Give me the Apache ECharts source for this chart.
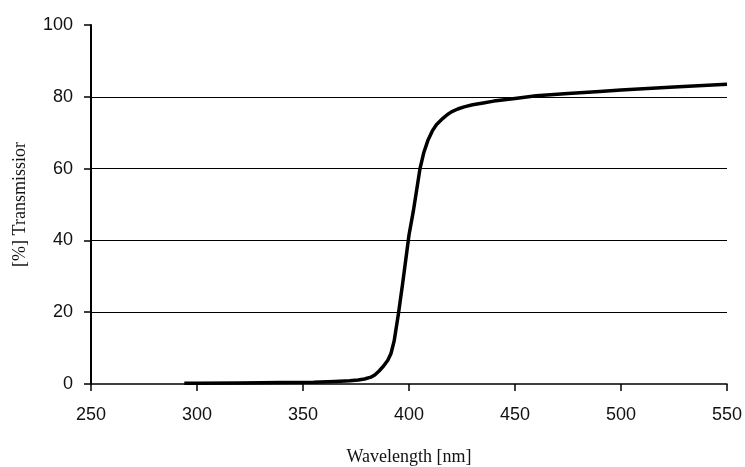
<!DOCTYPE html>
<html>
<head>
<meta charset="utf-8">
<script src="https://cdn.jsdelivr.net/npm/echarts@6/dist/echarts.min.js"></script>
<style>
  html, body { margin: 0; padding: 0; background: #fff; }
  #chart { width: 745px; height: 467px; }
</style>
</head>
<body>
<div id="chart"></div>
<script>
// wavelength (nm) and transmission (%)
var wavelength = [294, 300, 320, 340, 355, 365, 372, 376, 379, 382, 384, 386, 388, 390, 391.5, 393, 395, 397, 399, 400, 402, 404, 405.2, 407, 409, 411, 413, 416, 418, 420, 423, 426, 430, 435, 440, 450, 460, 475, 490, 500, 525, 550];
var transmission = [0.2, 0.2, 0.3, 0.4, 0.5, 0.7, 0.9, 1.1, 1.4, 1.9, 2.6, 3.7, 5, 6.6, 8.5, 12, 19.5, 28, 37, 41.5, 48, 55.5, 60, 64.5, 68, 70.5, 72.3, 74, 75, 75.8, 76.6, 77.2, 77.8, 78.3, 78.8, 79.5, 80.3, 80.9, 81.5, 81.9, 82.7, 83.5];

var points = wavelength.map(function(w, i) {
  return [w, transmission[i]];
});

var myChart = echarts.init(document.getElementById("chart"));
var tickFont = { fontFamily: "Liberation Sans", fontSize: 18, color: "#111" };

myChart.setOption({
  animation: false,
  grid: { left: 91, right: 18, top: 25, bottom: 83, outerBoundsMode: "none", containLabel: false },
  xAxis: {
    type: "value",
    min: 250,
    max: 550,
    interval: 50,
    name: "Wavelength [nm]",
    nameLocation: "middle",
    nameGap: 64,
    nameTextStyle: { fontFamily: "Liberation Serif", fontSize: 18, color: "#111" },
    axisLine: { lineStyle: { color: "#000", width: 1.5 } },
    axisTick: { length: 7, lineStyle: { color: "#000", width: 1.5 } },
    axisLabel: Object.assign({ margin: 22 }, tickFont),
    splitLine: { show: false }
  },
  yAxis: {
    type: "value",
    min: 0,
    max: 100,
    interval: 20,
    name: "[%] Transmissior",
    nameLocation: "middle",
    nameRotate: 90,
    nameGap: 62,
    nameTextStyle: { fontFamily: "Liberation Serif", fontSize: 18, color: "#111" },
    axisLine: { show: true, lineStyle: { color: "#000", width: 2 } },
    axisTick: { show: true, length: 7, lineStyle: { color: "#000", width: 1.5 } },
    axisLabel: Object.assign({ margin: 18 }, tickFont),
    splitLine: {
      show: true,
      showMinLine: false,
      showMaxLine: false,
      lineStyle: { color: "#000", width: 1 }
    }
  },
  series: [
    {
      type: "line",
      data: points,
      showSymbol: false,
      smooth: false,
      lineStyle: { color: "#000", width: 3.5, join: "round" }
    }
  ]
});
</script>
</body>
</html>
